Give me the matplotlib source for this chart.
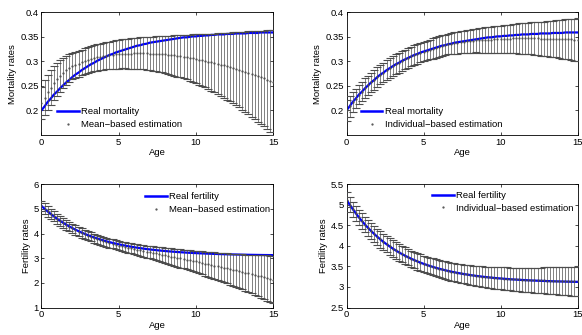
import numpy as np
import matplotlib
matplotlib.use("Agg")
import matplotlib.pyplot as plt
from matplotlib.lines import Line2D

plt.rcParams['font.family'] = ['Liberation Sans', 'DejaVu Sans']

# ---------------- data ----------------
ages = np.round(np.arange(76) * 0.2, 1)   # 0, 0.2, ..., 15

real_mortality = [
    0.200, 0.208, 0.217, 0.224, 0.232, 0.238, 0.245, 0.251, 0.257, 0.262,
    0.268, 0.273, 0.277, 0.282, 0.286, 0.290, 0.294, 0.297, 0.301, 0.304,
    0.307, 0.310, 0.313, 0.315, 0.318, 0.320, 0.322, 0.324, 0.326, 0.328,
    0.330, 0.332, 0.333, 0.335, 0.336, 0.338, 0.339, 0.340, 0.341, 0.342,
    0.343, 0.344, 0.345, 0.346, 0.347, 0.348, 0.349, 0.349, 0.350, 0.351,
    0.351, 0.352, 0.352, 0.353, 0.353, 0.354, 0.354, 0.355, 0.355, 0.355,
    0.356, 0.356, 0.356, 0.357, 0.357, 0.357, 0.357, 0.358, 0.358, 0.358,
    0.358, 0.359, 0.359, 0.359, 0.359, 0.359]

# mean-based mortality estimation: lower / upper ends of the error bars
mort_mean_lower = [
    0.182, 0.190, 0.200, 0.210, 0.220, 0.229, 0.237, 0.245, 0.252, 0.258,
    0.263, 0.266, 0.269, 0.272, 0.275, 0.277, 0.279, 0.280, 0.281, 0.282,
    0.283, 0.284, 0.284, 0.285, 0.285, 0.285, 0.286, 0.286, 0.285, 0.285,
    0.285, 0.285, 0.284, 0.284, 0.283, 0.282, 0.281, 0.280, 0.279, 0.278,
    0.276, 0.275, 0.273, 0.271, 0.269, 0.267, 0.265, 0.263, 0.260, 0.258,
    0.255, 0.252, 0.250, 0.247, 0.243, 0.240, 0.237, 0.233, 0.230, 0.226,
    0.222, 0.218, 0.214, 0.210, 0.206, 0.201, 0.197, 0.192, 0.187, 0.182,
    0.177, 0.172, 0.167, 0.161, 0.156, 0.150]
mort_mean_upper = [
    0.248, 0.262, 0.273, 0.282, 0.290, 0.297, 0.302, 0.307, 0.311, 0.314,
    0.317, 0.320, 0.322, 0.324, 0.327, 0.329, 0.331, 0.333, 0.335, 0.336,
    0.338, 0.339, 0.340, 0.341, 0.343, 0.344, 0.345, 0.345, 0.346, 0.347,
    0.348, 0.348, 0.349, 0.349, 0.350, 0.350, 0.350, 0.351, 0.351, 0.352,
    0.352, 0.352, 0.352, 0.353, 0.353, 0.353, 0.354, 0.354, 0.354, 0.355,
    0.355, 0.355, 0.355, 0.356, 0.356, 0.356, 0.356, 0.357, 0.357, 0.358,
    0.358, 0.358, 0.359, 0.359, 0.360, 0.360, 0.360, 0.361, 0.361, 0.362,
    0.362, 0.363, 0.363, 0.364, 0.364, 0.365]

# individual-based mortality estimation and error half-width
mort_ind_est = [
    0.200, 0.208, 0.217, 0.224, 0.232, 0.238, 0.245, 0.251, 0.257, 0.262,
    0.268, 0.273, 0.277, 0.282, 0.286, 0.290, 0.294, 0.297, 0.301, 0.304,
    0.307, 0.310, 0.313, 0.315, 0.318, 0.320, 0.322, 0.324, 0.326, 0.328,
    0.330, 0.332, 0.333, 0.335, 0.336, 0.338, 0.338, 0.339, 0.340, 0.341,
    0.341, 0.342, 0.343, 0.343, 0.343, 0.344, 0.344, 0.344, 0.345, 0.345,
    0.345, 0.346, 0.346, 0.346, 0.347, 0.347, 0.347, 0.347, 0.347, 0.347,
    0.347, 0.347, 0.347, 0.346, 0.346, 0.346, 0.346, 0.346, 0.346, 0.346,
    0.345, 0.345, 0.345, 0.345, 0.344, 0.344]
mort_ind_err = [
    0.021, 0.021, 0.020, 0.020, 0.020, 0.020, 0.020, 0.020, 0.020, 0.020,
    0.020, 0.020, 0.020, 0.020, 0.020, 0.020, 0.020, 0.020, 0.020, 0.020,
    0.020, 0.020, 0.020, 0.020, 0.020, 0.020, 0.020, 0.020, 0.021, 0.021,
    0.021, 0.021, 0.021, 0.021, 0.022, 0.022, 0.022, 0.022, 0.023, 0.023,
    0.024, 0.024, 0.024, 0.025, 0.025, 0.026, 0.026, 0.026, 0.027, 0.027,
    0.028, 0.028, 0.029, 0.029, 0.030, 0.030, 0.031, 0.031, 0.032, 0.032,
    0.033, 0.034, 0.034, 0.035, 0.035, 0.036, 0.037, 0.037, 0.038, 0.039,
    0.040, 0.041, 0.041, 0.042, 0.043, 0.044]

real_fertility = [
    5.120, 5.005, 4.896, 4.793, 4.696, 4.605, 4.519, 4.438, 4.362, 4.290,
    4.222, 4.158, 4.097, 4.040, 3.987, 3.936, 3.888, 3.843, 3.801, 3.761,
    3.723, 3.687, 3.654, 3.622, 3.592, 3.564, 3.538, 3.513, 3.489, 3.467,
    3.446, 3.426, 3.408, 3.390, 3.373, 3.358, 3.343, 3.329, 3.316, 3.304,
    3.292, 3.281, 3.271, 3.261, 3.252, 3.243, 3.235, 3.227, 3.220, 3.213,
    3.207, 3.201, 3.195, 3.189, 3.184, 3.180, 3.175, 3.171, 3.167, 3.163,
    3.159, 3.156, 3.153, 3.150, 3.147, 3.144, 3.142, 3.139, 3.137, 3.135,
    3.133, 3.131, 3.129, 3.128, 3.126, 3.125]

fert_mean_est = [
    5.120, 5.005, 4.896, 4.793, 4.696, 4.605, 4.517, 4.434, 4.356, 4.282,
    4.212, 4.146, 4.083, 4.024, 3.969, 3.916, 3.865, 3.817, 3.772, 3.729,
    3.688, 3.649, 3.613, 3.578, 3.545, 3.514, 3.484, 3.455, 3.427, 3.401,
    3.376, 3.348, 3.322, 3.296, 3.271, 3.248, 3.221, 3.195, 3.170, 3.146,
    3.122, 3.095, 3.069, 3.043, 3.018, 2.993, 2.967, 2.941, 2.916, 2.891,
    2.867, 2.839, 2.811, 2.783, 2.756, 2.730, 2.701, 2.673, 2.645, 2.617,
    2.589, 2.560, 2.531, 2.502, 2.473, 2.444, 2.414, 2.383, 2.353, 2.323,
    2.293, 2.261, 2.229, 2.198, 2.166, 2.135]
fert_mean_err = [
    0.220, 0.216, 0.212, 0.208, 0.204, 0.200, 0.198, 0.196, 0.194, 0.192,
    0.190, 0.188, 0.186, 0.184, 0.182, 0.180, 0.180, 0.180, 0.180, 0.180,
    0.180, 0.181, 0.182, 0.183, 0.184, 0.185, 0.190, 0.195, 0.200, 0.205,
    0.210, 0.218, 0.226, 0.234, 0.242, 0.250, 0.262, 0.274, 0.286, 0.298,
    0.310, 0.322, 0.334, 0.346, 0.358, 0.370, 0.383, 0.396, 0.409, 0.422,
    0.435, 0.452, 0.469, 0.486, 0.503, 0.520, 0.538, 0.556, 0.574, 0.592,
    0.610, 0.630, 0.650, 0.670, 0.690, 0.710, 0.734, 0.758, 0.782, 0.806,
    0.830, 0.858, 0.886, 0.914, 0.942, 0.970]

fert_ind_est = [
    5.120, 5.005, 4.896, 4.793, 4.696, 4.605, 4.519, 4.438, 4.362, 4.290,
    4.222, 4.158, 4.097, 4.040, 3.987, 3.936, 3.888, 3.843, 3.801, 3.761,
    3.723, 3.687, 3.654, 3.622, 3.592, 3.564, 3.538, 3.513, 3.489, 3.467,
    3.446, 3.426, 3.408, 3.390, 3.373, 3.358, 3.343, 3.329, 3.316, 3.304,
    3.292, 3.282, 3.272, 3.263, 3.254, 3.246, 3.238, 3.231, 3.224, 3.218,
    3.212, 3.206, 3.201, 3.195, 3.191, 3.187, 3.183, 3.179, 3.176, 3.172,
    3.169, 3.166, 3.164, 3.161, 3.159, 3.156, 3.154, 3.152, 3.150, 3.149,
    3.147, 3.145, 3.143, 3.143, 3.141, 3.140]
fert_ind_err = [
    0.180, 0.182, 0.184, 0.186, 0.188, 0.190, 0.192, 0.194, 0.196, 0.198,
    0.200, 0.200, 0.200, 0.200, 0.200, 0.200, 0.200, 0.200, 0.200, 0.200,
    0.200, 0.200, 0.200, 0.200, 0.200, 0.200, 0.202, 0.204, 0.206, 0.208,
    0.210, 0.212, 0.214, 0.216, 0.218, 0.220, 0.223, 0.226, 0.229, 0.232,
    0.235, 0.238, 0.241, 0.244, 0.247, 0.250, 0.254, 0.258, 0.262, 0.266,
    0.270, 0.273, 0.276, 0.279, 0.282, 0.285, 0.288, 0.291, 0.294, 0.297,
    0.300, 0.304, 0.308, 0.312, 0.316, 0.320, 0.324, 0.328, 0.332, 0.336,
    0.340, 0.344, 0.348, 0.352, 0.356, 0.360]

x_ticks = [0, 5, 10, 15]
mort_ticks = [0.2, 0.25, 0.3, 0.35, 0.4]
mort_ticklabels = ['0.2', '0.25', '0.3', '0.35', '0.4']
fert3_ticks = [1, 2, 3, 4, 5, 6]
fert4_ticks = [2.5, 3, 3.5, 4, 4.5, 5, 5.5]
fert4_ticklabels = ['2.5', '3', '3.5', '4', '4.5', '5', '5.5']

# ---------------- figure ----------------
FS = 6.8
fig = plt.figure(figsize=(5.82, 3.35), dpi=100)
ax1 = fig.add_axes([0.0713, 0.597, 0.398, 0.366])
ax2 = fig.add_axes([0.5954, 0.597, 0.397, 0.366])
ax3 = fig.add_axes([0.0713, 0.082, 0.398, 0.368])
ax4 = fig.add_axes([0.5954, 0.082, 0.397, 0.368])


def panel(ax, real, est, err, real_label, est_label, ylabel, ylim, yticks,
          yticklabels, leg_xy):
    ax.plot(ages, real, color=(0, 0, 1), lw=1.6, zorder=2)
    eb = ax.errorbar(ages, est, yerr=err, fmt='.', color='0.3', ms=1.2,
                     ecolor='0.3', elinewidth=0.5, capsize=3.0,
                     capthick=0.8, zorder=3)
    for cap in eb[1]:
        cap.set_color('0.15')
    ax.set_xlim(0, 15)
    ax.set_ylim(*ylim)
    ax.set_xticks(x_ticks)
    ax.set_xticklabels([str(v) for v in x_ticks])
    ax.set_yticks(yticks)
    ax.set_yticklabels(yticklabels)
    ax.tick_params(direction='in', length=2.5, width=0.5, top=True,
                   right=True, labelsize=FS, pad=2)
    for s in ax.spines.values():
        s.set_linewidth(0.6)
    ax.set_xlabel('Age', fontsize=FS, labelpad=1)
    ax.set_ylabel(ylabel, fontsize=FS, labelpad=2)
    handles = [Line2D([], [], color=(0, 0, 1), lw=1.8),
               Line2D([], [], color='0.3', marker='.', ms=1.2, ls='none')]
    ax.legend(handles, [real_label, est_label], loc='upper left',
              bbox_to_anchor=leg_xy, frameon=False, fontsize=FS,
              borderpad=0, borderaxespad=0, handlelength=2.3,
              handletextpad=0.25, labelspacing=0.4)


mort_est1 = [(lo + hi) / 2 for lo, hi in zip(mort_mean_lower, mort_mean_upper)]
mort_err1 = [(hi - lo) / 2 for lo, hi in zip(mort_mean_lower, mort_mean_upper)]

panel(ax1, real_mortality, mort_est1, mort_err1, 'Real mortality',
      'Mean\u2212based estimation', 'Mortality rates', (0.1495, 0.4),
      mort_ticks, mort_ticklabels, (0.067, 0.226))
panel(ax2, real_mortality, mort_ind_est, mort_ind_err, 'Real mortality',
      'Individual\u2212based estimation', 'Mortality rates', (0.1495, 0.4),
      mort_ticks, mort_ticklabels, (0.0615, 0.226))
panel(ax3, real_fertility, fert_mean_est, fert_mean_err, 'Real fertility',
      'Mean\u2212based estimation', 'Fertility rates', (1, 6),
      fert3_ticks, [str(v) for v in fert3_ticks], (0.4465, 0.935))
panel(ax4, real_fertility, fert_ind_est, fert_ind_err, 'Real fertility',
      'Individual\u2212based estimation', 'Fertility rates', (2.5, 5.5),
      fert4_ticks, fert4_ticklabels, (0.369, 0.946))

fig.savefig('out.png', dpi=100)
